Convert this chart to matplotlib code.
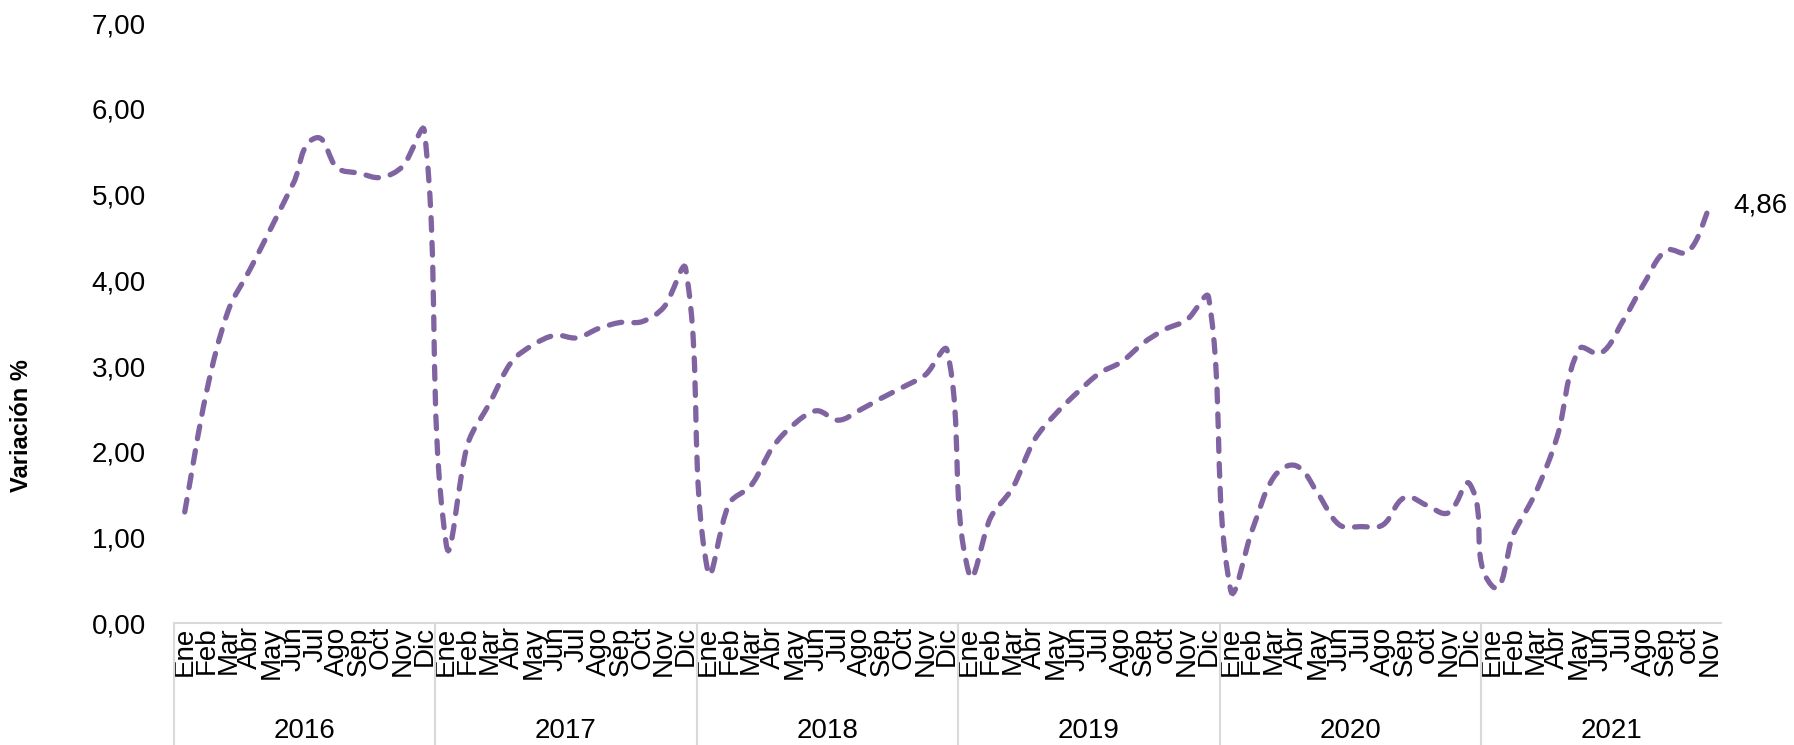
import numpy as np
import matplotlib.pyplot as plt
import matplotlib.transforms as mtransforms
from matplotlib.path import Path
from matplotlib.patches import PathPatch

plt.rcParams['font.family'] = ['Liberation Sans', 'DejaVu Sans']

# Monthly variation (%)
years = ['2016', '2017', '2018', '2019', '2020', '2021']
months_a = ['Ene', 'Feb', 'Mar', 'Abr', 'May', 'Jun', 'Jul', 'Ago', 'Sep', 'Oct', 'Nov', 'Dic']
months_b = ['Ene', 'Feb', 'Mar', 'Abr', 'May', 'Jun', 'Jul', 'Ago', 'Sep', 'oct', 'Nov', 'Dic']

v2016 = [1.30, 2.70, 3.65, 4.13, 4.63, 5.14, 5.66, 5.31, 5.25, 5.20, 5.33, 5.74]
v2017 = [0.93, 2.10, 2.57, 3.05, 3.25, 3.36, 3.33, 3.44, 3.51, 3.52, 3.69, 4.13]
v2018 = [0.62, 1.40, 1.61, 2.06, 2.33, 2.48, 2.37, 2.49, 2.63, 2.76, 2.90, 3.18]
v2019 = [0.58, 1.24, 1.58, 2.14, 2.45, 2.70, 2.92, 3.05, 3.27, 3.43, 3.54, 3.80]
v2020 = [0.40, 1.09, 1.71, 1.84, 1.52, 1.15, 1.13, 1.15, 1.47, 1.38, 1.29, 1.62]
v2021 = [0.44, 1.05, 1.52, 2.18, 3.20, 3.15, 3.52, 3.97, 4.35, 4.33, 4.86]

series = [v2016, v2017, v2018, v2019, v2020, v2021]
month_sets = [months_a, months_a, months_a, months_b, months_b, months_b]

values = np.concatenate(series)
labels = []
for ms, s in zip(month_sets, series):
    labels += ms[:len(s)]
x = np.arange(len(values))

color = '#8064A2'
grey = '#d9d9d9'

fig = plt.figure(figsize=(17.94, 7.45), dpi=100)
ax = fig.add_axes([0.0969, 0.1631, 0.8622, 0.8059])
ax.set_xlim(-0.5, len(values) - 0.5)
ax.set_ylim(0, 7)

# smoothed line like the spreadsheet's "smooth line": bezier through every
# point, control arms sized by the on-screen length of each segment
fig.canvas.draw()
pts = ax.transData.transform(np.column_stack([x, values]))
ext = np.vstack([pts[0], pts, pts[-1]])


def tangent(i):
    d = ext[i + 2] - ext[i]
    n = np.hypot(*d)
    return d / n if n else d


verts = [pts[0]]
codes = [Path.MOVETO]
for i in range(len(pts) - 1):
    p1, p2 = ext[i + 1], ext[i + 2]
    seg = np.hypot(*(p2 - p1))
    verts += [p1 + tangent(i) * seg / 3, p2 - tangent(i + 1) * seg / 3, p2]
    codes += [Path.CURVE4] * 3
verts = ax.transData.inverted().transform(np.array(verts))
line = PathPatch(Path(verts, codes), facecolor='none', edgecolor=color,
                 lw=3.8, linestyle=(0, (2.4, 2.3)), capstyle='round')
ax.add_patch(line)

ax.set_yticks(range(8))
ax.set_yticklabels([f'{v:.2f}'.replace('.', ',') for v in range(8)])
ax.tick_params(axis='y', length=0, pad=20, labelsize=20)

ax.set_xticks(x)
ax.set_xticklabels(labels, rotation=90, fontsize=20, va='top')
ax.tick_params(axis='x', length=0, pad=2)

for side in ['top', 'right', 'left']:
    ax.spines[side].set_visible(False)
ax.spines['bottom'].set_color(grey)
ax.spines['bottom'].set_linewidth(1.5)

# year groups under the month labels
trans = mtransforms.blended_transform_factory(ax.transData, ax.transAxes)
start = 0
for yr, s in zip(years, series):
    ax.plot([start - 0.5, start - 0.5], [0, -0.21], transform=trans,
            color=grey, lw=1.5, clip_on=False)
    ax.text(start + 5.5, -0.1795, yr, transform=trans, ha='center',
            va='center', fontsize=20)
    start += len(s)

ax.annotate(f'{values[-1]:.2f}'.replace('.', ','), xy=(x[-1], values[-1]),
            xytext=(17, 1), textcoords='offset points', fontsize=20,
            ha='left', va='center')

fig.text(22 / 1794, 1 - 426 / 745, 'Variación %', rotation=90, fontsize=17,
         fontweight='bold', ha='center', va='center')

fig.savefig('out.png', dpi=100)
